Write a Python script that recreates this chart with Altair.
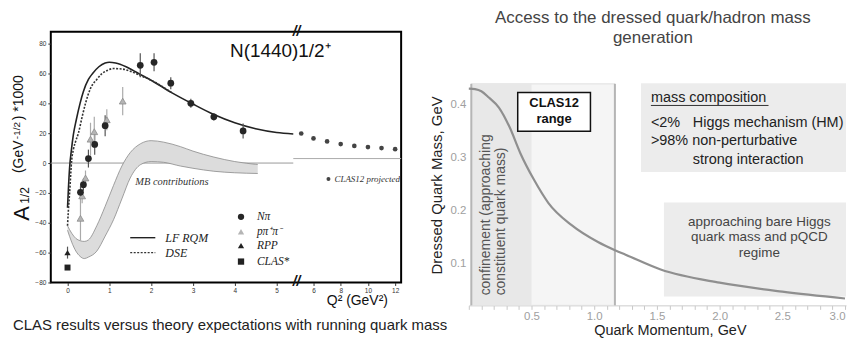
import altair as alt
import pandas as pd

SANS = "Liberation Sans"
SERIF = "Liberation Serif"

# ---------------- left panel: N(1440)1/2+ helicity amplitude ----------------
# broken Q^2 axis: left part linear in Q^2, right part (after //) compressed
BREAK_POS = 5.48
RIGHT_Q0 = 4.76
RIGHT_SCALE = 0.3255

lf_q = [0.0, 0.02, 0.05, 0.09, 0.14, 0.21, 0.3, 0.38, 0.5, 0.6, 0.75, 0.9, 1.0, 1.15,
        1.4, 1.7, 2.0, 2.5, 3.0, 3.5, 4.0, 4.5, 5.0, 5.4]
lf_a = [-30, -18, -3, 8, 19, 29, 40, 48, 56, 60, 64.5, 67, 67.5, 67,
        64.5, 60, 55.5, 47, 39.5, 32.5, 27, 23, 20.5, 19.5]
dse_q = [0.0, 0.02, 0.05, 0.1, 0.14, 0.2, 0.26, 0.35, 0.43, 0.55, 0.7, 0.83, 0.95,
         1.1, 1.3, 1.5, 1.75, 2.0, 2.5]
dse_a = [-42, -32, -20, 2, 9, 15, 20, 31, 40, 50, 56, 60, 62,
         63.3, 63, 61.5, 58.5, 55.5, 47]
mb_q = [0.0, 0.1, 0.2, 0.3, 0.4, 0.5, 0.7, 0.9, 1.1, 1.3, 1.5, 1.75, 2.0, 2.3, 2.7,
        3.0, 3.5, 4.0, 4.55]
mb_hi = [-42, -47, -50.5, -52, -52.5, -51.5, -42, -29, -15, -2, 7, 13, 15, 14, 11,
         8, 4, 1, -1]
mb_lo = [-45, -53, -59, -62.5, -64, -63, -59, -49, -38, -24, -10, -1, 1, 0.5, -2,
         -3.5, -5.5, -6.5, -7]

npi_q = [0.31, 0.38, 0.5, 0.65, 0.9, 1.74, 2.07, 2.47, 2.95, 3.5, 4.2]
npi_a = [-19.6, -14.5, 3, 12.5, 25, 65.5, 67.5, 53.5, 40, 31, 21.5]
npi_e = [4, 4, 6, 7, 7, 8, 6, 4, 3, 2.5, 5]
ppp_q = [0.31, 0.35, 0.43, 0.55, 0.64, 0.94, 1.32]
ppp_a = [-37, -22, -10, 16, 21, 29, 41.5]
ppp_e = [15, 5, 5, 11, 10, 7, 9.5]
rpp_q, rpp_a, rpp_e = [0.0], [-60], [4]
clas_q, clas_a = [0.0], [-70]
proj_q = [5.1, 6, 7, 8, 9, 10, 11, 12]
proj_a = [19.8, 16.5, 14.5, 12.7, 11.5, 10.7, 10.0, 9.3]

left_y_ticks = [-80, -60, -40, -20, 0, 20, 40, 60, 80]
left_x_ticks_lo = [0, 1, 2, 3, 4, 5]
left_x_ticks_hi = [6, 8, 10, 12]

# ---------------- right panel: dressed quark mass ----------------
p_mom = [0, 0.05, 0.1, 0.16, 0.24, 0.325, 0.41, 0.52, 0.635, 0.82, 1.03, 1.17, 1.25,
         1.53, 2.0, 2.5, 3.0]
m_dressed = [0.431, 0.43, 0.426, 0.414, 0.395, 0.358, 0.309, 0.258, 0.214, 0.172,
             0.140, 0.124, 0.116, 0.088, 0.063, 0.046, 0.033]
right_x_ticks = [round(0.1 * i, 1) for i in range(31)]
right_y_ticks = [0.1, 0.2, 0.3, 0.4]
R_XMAX = 3.008

# ======================= LEFT CHART =======================
xs_l = alt.Scale(domain=[-0.4, 7.98], nice=False, zero=False)
ys_l = alt.Scale(domain=[-80, 88], nice=False, zero=False)
tick_vals = left_x_ticks_lo + [BREAK_POS + (q - RIGHT_Q0) * RIGHT_SCALE for q in left_x_ticks_hi]
lab_expr = (f"datum.value < {BREAK_POS} ? format(datum.value, 'd') : "
            f"format(round({RIGHT_Q0} + (datum.value - {BREAK_POS}) / {RIGHT_SCALE}), 'd')")
ax_lx = alt.Axis(values=tick_vals, labelExpr=lab_expr, labelFontSize=6.5, labelColor="#333",
                 tickColor="#333", tickSize=3, domain=False, grid=False, title=None,
                 labelPadding=2, labelFont=SANS)
ax_ly = alt.Axis(values=left_y_ticks, labelFontSize=6.5, labelColor="#333", tickColor="#333",
                 tickSize=3, domain=False, grid=False, title=None, labelPadding=2, labelFont=SANS)
LX = alt.X("pos:Q", scale=xs_l, axis=ax_lx)
LY = alt.Y("a:Q", scale=ys_l, axis=ax_ly)
RIGHT_CALC = f"{BREAK_POS} + (datum.q - {RIGHT_Q0}) * {RIGHT_SCALE}"


def df(**cols):
    return pd.DataFrame(cols)


zero_l = alt.Chart(df(pos=[-0.4], pos2=[5.4], a=[0])).mark_rule(color="#999", strokeWidth=1).encode(
    x=LX, x2="pos2:Q", y=LY)
zero_r = alt.Chart(df(pos=[5.4], pos2=[7.98], a=[3])).mark_rule(color="#aaa", strokeWidth=1).encode(
    x=LX, x2="pos2:Q", y=LY)

mb_df = df(pos=mb_q, a=mb_hi, a2=mb_lo)
mb_area = alt.Chart(mb_df).mark_area(color="#dcdcdc", opacity=1, interpolate="monotone").encode(
    x=LX, y=LY, y2="a2:Q")
mb_top = alt.Chart(df(pos=mb_q, a=mb_hi)).mark_line(color="#8a8a8a", strokeWidth=0.8,
                                                     interpolate="monotone").encode(x=LX, y=LY)
mb_bot = alt.Chart(df(pos=mb_q, a=mb_lo)).mark_line(color="#8a8a8a", strokeWidth=0.8,
                                                     interpolate="monotone").encode(x=LX, y=LY)

lf_line = alt.Chart(df(pos=lf_q, a=lf_a)).mark_line(color="#222", strokeWidth=1.6,
                                                     interpolate="monotone").encode(x=LX, y=LY)
dse_line = alt.Chart(df(pos=dse_q, a=dse_a)).mark_line(color="#333", strokeWidth=1.6,
                                                        strokeDash=[2, 1.5],
                                                        interpolate="monotone").encode(x=LX, y=LY)


def errbars(q, a, e, color):
    d = df(pos=q, a=[v - w for v, w in zip(a, e)], a2=[v + w for v, w in zip(a, e)])
    return alt.Chart(d).mark_rule(color=color, strokeWidth=1.2).encode(x=LX, y=LY, y2="a2:Q")


npi_err = errbars(npi_q, npi_a, npi_e, "#555")
ppp_err = errbars(ppp_q, ppp_a, ppp_e, "#aaa")
rpp_err = errbars(rpp_q, rpp_a, rpp_e, "#555")

npi_pts = alt.Chart(df(pos=npi_q, a=npi_a)).mark_point(shape="circle", filled=True, size=46,
                                                        color="#262626", opacity=1).encode(x=LX, y=LY)
ppp_pts = alt.Chart(df(pos=ppp_q, a=ppp_a)).mark_point(shape="triangle-up", filled=True, size=46,
                                                        fill="#b5b5b5", stroke="#8c8c8c",
                                                        strokeWidth=0.8, opacity=1).encode(x=LX, y=LY)
rpp_pts = alt.Chart(df(pos=rpp_q, a=rpp_a)).mark_point(shape="triangle-up", filled=True, size=40,
                                                        color="#222", opacity=1).encode(x=LX, y=LY)
clas_pts = alt.Chart(df(pos=clas_q, a=clas_a)).mark_point(shape="square", filled=True, size=36,
                                                           color="#222", opacity=1).encode(x=LX, y=LY)
proj_pts = alt.Chart(df(q=proj_q, a=proj_a)).transform_calculate(pos=RIGHT_CALC).mark_point(
    shape="circle", filled=True, size=22, color="#444", opacity=1).encode(x=LX, y=LY)

# legend
leg_sym = [("circle", "#262626", -36), ("triangle-up", "#b5b5b5", -46),
           ("triangle-up", "#222", -55.3), ("square", "#222", -66)]
leg_layers = []
for shp, col, yy in leg_sym:
    leg_layers.append(alt.Chart(df(pos=[4.15], a=[yy])).mark_point(
        shape=shp, filled=True, size=40, color=col, opacity=1).encode(x=LX, y=LY))
leg_text = alt.Chart(df(pos=[4.53] * 4, a=[-36, -46, -55.3, -66],
                        t=["Nπ", "pπ⁺π⁻", "RPP", "CLAS*"])).mark_text(
    align="left", baseline="middle", font=SERIF, fontStyle="italic", fontSize=11.5,
    color="#222").encode(x=LX, y=LY, text="t:N")
leg_lf = alt.Chart(df(pos=[1.5], pos2=[2.1], a=[-50])).mark_rule(color="#222", strokeWidth=1.4).encode(
    x=LX, x2="pos2:Q", y=LY)
leg_dse = alt.Chart(df(pos=[1.5], pos2=[2.1], a=[-60])).mark_rule(
    color="#333", strokeWidth=1.4, strokeDash=[2, 1.5]).encode(x=LX, x2="pos2:Q", y=LY)
leg_lines_text = alt.Chart(df(pos=[2.34, 2.34], a=[-50, -60], t=["LF RQM", "DSE"])).mark_text(
    align="left", baseline="middle", font=SERIF, fontStyle="italic", fontSize=12,
    color="#222").encode(x=LX, y=LY, text="t:N")

proj_leg_dot = alt.Chart(df(q=[7.1], a=[-10.7])).transform_calculate(pos=RIGHT_CALC).mark_point(
    shape="circle", filled=True, size=16, color="#444", opacity=1).encode(x=LX, y=LY)
proj_leg_txt = alt.Chart(df(q=[7.54], a=[-10.7], t=["CLAS12 projected"])).transform_calculate(
    pos=RIGHT_CALC).mark_text(align="left", baseline="middle", font=SERIF, fontStyle="italic",
                              fontSize=9, color="#333").encode(x=LX, y=LY, text="t:N")

mb_txt = alt.Chart(df(pos=[1.62], a=[-12.7], t=["MB contributions"])).mark_text(
    align="left", baseline="middle", font=SERIF, fontStyle="italic", fontSize=10.5,
    color="#333").encode(x=LX, y=LY, text="t:N")
res_txt = alt.Chart(df(pos=[3.886], a=[74.7], t=["N(1440)1/2⁺"])).mark_text(
    align="left", baseline="middle", font=SANS, fontSize=19, color="#111").encode(
    x=LX, y=LY, text="t:N")

brk = alt.Chart(df(pos=[BREAK_POS, BREAK_POS], a=[88, -80], t=["//", "//"])).mark_text(
    align="center", baseline="middle", font=SANS, fontSize=14, fontWeight="bold",
    fontStyle="italic", color="#111").encode(x=LX, y=LY, text="t:N")

# rotated y-axis title pieces: A_{1/2} (GeV^{-1/2}) *1000
ytitle_parts = [
    ("A", -1.09, -38.7, 22),
    ("1/2", -1.02, -27.3, 12),
    ("(GeV", -1.155, -6.7, 14),
    ("-1/2", -1.20, 16, 10),
    (") *1000", -1.155, 28.7, 14),
]
ytitle_layers = [
    alt.Chart(df(pos=[px], a=[py], t=[tt])).mark_text(
        angle=270, align="left", baseline="middle", font=SANS, fontSize=fs, color="#111").encode(
        x=LX, y=LY, text="t:N")
    for tt, px, py, fs in ytitle_parts
]
q2_title = alt.Chart(df(pos=[6.933], a=[-92.7], t=["Q² (GeV²)"])).mark_text(
    align="center", baseline="middle", font=SANS, fontSize=14, color="#111").encode(
    x=LX, y=LY, text="t:N")
caption = alt.Chart(df(pos=[-1.305], a=[-108.7],
                       t=["CLAS results versus theory expectations with running quark mass"])).mark_text(
    align="left", baseline="middle", font=SANS, fontSize=15, color="#222").encode(
    x=LX, y=LY, text="t:N")

left = alt.layer(
    zero_l, zero_r, mb_area, mb_top, mb_bot, lf_line, dse_line,
    npi_err, ppp_err, rpp_err, ppp_pts, npi_pts, rpp_pts, clas_pts, proj_pts,
    *leg_layers, leg_text, leg_lf, leg_dse, leg_lines_text, proj_leg_dot, proj_leg_txt,
    mb_txt, res_txt, brk, *ytitle_layers, q2_title, caption,
).properties(width=352, height=252, view=alt.ViewBackground(stroke="black", strokeWidth=2))

# ======================= RIGHT CHART =======================
xs_r = alt.Scale(domain=[0, R_XMAX], nice=False, zero=False)
ys_r = alt.Scale(domain=[0.02, 0.5389], nice=False, zero=False)
ax_rx = alt.Axis(values=right_x_ticks,
                 labelExpr="datum.value > 0 && abs(datum.value * 2 - round(datum.value * 2)) < 0.001 ? format(datum.value, '.1f') : ''",
                 labelColor="#a0a0a0", labelFontSize=11.5, labelFont=SANS, tickColor="#c8c8c8",
                 tickSize=4, domainColor="#cccccc", grid=False, title="Quark Momentum, GeV",
                 titleFontSize=14.5, titleFontWeight="normal", titleColor="#222", titleFont=SANS,
                 titleX=202, titleY=25, titleBaseline="middle", labelPadding=1.5, labelFlush=3)
ax_ry = alt.Axis(values=right_y_ticks, format=".1f", ticks=False, labelPadding=3, domain=False,
                 grid=False, labelColor="#a0a0a0", labelFontSize=11.5, labelFont=SANS,
                 title="Dressed Quark Mass, GeV", titleFontSize=15, titleFontWeight="normal",
                 titleColor="#222", titleFont=SANS, titleY=154, titlePadding=5)
RX = alt.X("p:Q", scale=xs_r, axis=ax_rx)
RY = alt.Y("m:Q", scale=ys_r, axis=ax_ry)

clas_region = alt.Chart(df(p=[0.02], p2=[1.165], m=[0.02], m2=[0.44])).mark_rect(
    fill="#f5f5f5", stroke="#e0e0e0", strokeWidth=1).encode(x=RX, x2="p2:Q", y=RY, y2="m2:Q")
conf_region = alt.Chart(df(p=[0.02], p2=[0.5], m=[0.02], m2=[0.44])).mark_rect(
    fill="#e8e8e8").encode(x=RX, x2="p2:Q", y=RY, y2="m2:Q")
edge_rules = alt.Chart(df(p=[0.02, 1.165], m=[0.02, 0.02], m2=[0.44, 0.44])).mark_rule(
    color="#b5b5b5", strokeWidth=2).encode(x=RX, y=RY, y2="m2:Q")
mass_box = alt.Chart(df(p=[1.373], p2=[R_XMAX], m=[0.273], m2=[0.441])).mark_rect(
    fill="#ececec").encode(x=RX, x2="p2:Q", y=RY, y2="m2:Q")
pqcd_box = alt.Chart(df(p=[1.556], p2=[R_XMAX], m=[0.037], m2=[0.215])).mark_rect(
    fill="#ececec").encode(x=RX, x2="p2:Q", y=RY, y2="m2:Q")
curve = alt.Chart(df(p=p_mom, m=m_dressed)).mark_line(color="#8f8f8f", strokeWidth=2.2,
                                                      interpolate="monotone").encode(x=RX, y=RY)
clas_box = alt.Chart(df(p=[0.39], p2=[0.97], m=[0.3502], m2=[0.4238])).mark_rect(
    fill="white", stroke="#111", strokeWidth=1.5).encode(x=RX, x2="p2:Q", y=RY, y2="m2:Q")
clas_txt = alt.Chart(df(p=[0.68, 0.68], m=[0.403, 0.373], t=["CLAS12", "range"])).mark_text(
    align="center", baseline="middle", font=SANS, fontSize=13, fontWeight="bold",
    color="#111").encode(x=RX, y=RY, text="t:N")
conf_txt = alt.Chart(df(p=[0.135, 0.254], m=[0.039, 0.039],
                        t=["confinement (approaching", "constituent quark mass)"])).mark_text(
    angle=270, align="left", baseline="middle", font=SANS, fontSize=14, color="#555").encode(
    x=RX, y=RY, text="t:N")
mass_head = alt.Chart(df(p=[1.452], m=[0.4125], t=["mass composition"])).mark_text(
    align="left", baseline="middle", font=SANS, fontSize=14.5, color="#222").encode(
    x=RX, y=RY, text="t:N")
mass_ul = alt.Chart(df(p=[1.452], p2=[2.39], m=[0.399])).mark_rule(color="#333", strokeWidth=1).encode(
    x=RX, x2="p2:Q", y=RY)
mass_lines = alt.Chart(df(p=[1.452, 1.786, 1.452, 1.786], m=[0.365, 0.365, 0.331, 0.2955],
                          t=["<2%", "Higgs mechanism (HM)", ">98% non-perturbative",
                             "strong interaction"])).mark_text(
    align="left", baseline="middle", font=SANS, fontSize=14.5, color="#222").encode(
    x=RX, y=RY, text="t:N")
pqcd_txt = alt.Chart(df(p=[2.317] * 3, m=[0.1785, 0.150, 0.12],
                        t=["approaching bare Higgs", "quark mass and pQCD", "regime"])).mark_text(
    align="center", baseline="middle", font=SANS, fontSize=13.5, color="#444").encode(
    x=RX, y=RY, text="t:N")
r_title = alt.Chart(df(p=[1.468, 1.468], m=[0.5653, 0.5275],
                       t=["Access to the dressed quark/hadron mass", "generation"])).mark_text(
    align="center", baseline="middle", font=SANS, fontSize=17, color="#444").encode(
    x=RX, y=RY, text="t:N")

right = alt.layer(
    clas_region, conf_region, edge_rules, mass_box, pqcd_box, curve, clas_box, clas_txt,
    conf_txt, mass_head, mass_ul, mass_lines, pqcd_txt, r_title,
).properties(width=379, height=275)

chart = alt.hconcat(left, right, spacing=68, bounds="flush").properties(
    padding={"left": 2, "top": 0, "right": 0, "bottom": 0}
).configure(font=SANS).configure_view(stroke=None)

chart.save("out.html", embed_options={"renderer": "svg", "actions": False})
